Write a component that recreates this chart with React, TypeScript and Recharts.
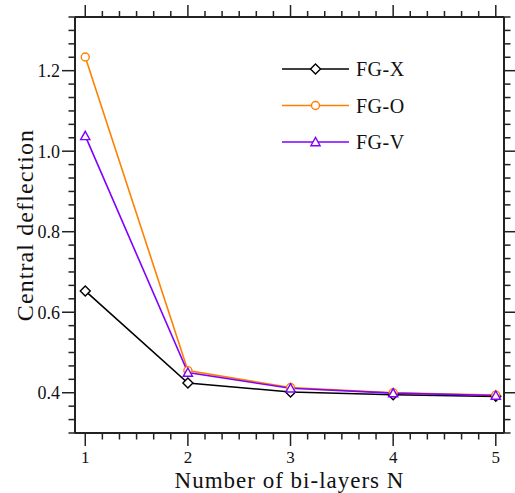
import React from 'react';
import { LineChart, Line, XAxis, YAxis, Legend } from 'recharts';

// number of bi-layers and central deflection per grading pattern
const layers = [1, 2, 3, 4, 5];
const fgX = [0.653, 0.424, 0.402, 0.395, 0.391];
const fgO = [1.234, 0.455, 0.413, 0.4, 0.394];
const fgV = [1.038, 0.45, 0.411, 0.399, 0.393];

const xMajorTicks = [1, 2, 3, 4, 5];
const yMajorTicks = [0.4, 0.6, 0.8, 1.0, 1.2];

const xDomain = [0.9, 5.08];
const yDomain = [0.3, 0.3 + 31 / 30];

// minor ticks: 6 subdivisions per major step
const xTicks = Array.from({ length: 25 }, (_, k) => 1 + k / 6);
const yTicks = Array.from({ length: 32 }, (_, k) => 0.3 + k / 30);

const FONT = '"Liberation Serif", "DejaVu Serif", serif';
const AXIS = '#222';
const TEXT = '#111';

const series = [
  { key: 'x', name: 'FG-X', color: '#000000', marker: 'diamond' },
  { key: 'o', name: 'FG-O', color: '#ff8000', marker: 'circle' },
  { key: 'v', name: 'FG-V', color: '#8000ff', marker: 'triangle' },
];

const data = layers.map((n, i) => ({ n, x: fgX[i], o: fgO[i], v: fgV[i] }));

const isMajor = (v: number, majors: number[]) => majors.some((m) => Math.abs(m - v) < 1e-6);

const Marker = ({ kind, cx, cy, color }: { kind: string; cx: number; cy: number; color: string }) => {
  if (kind === 'diamond') {
    const s = 5;
    return (
      <path
        d={`M${cx},${cy - s}L${cx + s},${cy}L${cx},${cy + s}L${cx - s},${cy}Z`}
        fill="#fff"
        stroke={color}
        strokeWidth={1.4}
      />
    );
  }
  if (kind === 'triangle') {
    const s = 4.6;
    return (
      <path
        d={`M${cx},${cy - s}L${cx + s},${cy + s * 0.8}L${cx - s},${cy + s * 0.8}Z`}
        fill="#fff"
        stroke={color}
        strokeWidth={1.4}
      />
    );
  }
  return <circle cx={cx} cy={cy} r={4} fill="#fff" stroke={color} strokeWidth={1.4} />;
};

const BottomTick = (props: any) => {
  const { x, y, payload } = props;
  const major = isMajor(payload.value, xMajorTicks);
  return (
    <g>
      <line x1={x} x2={x} y1={y} y2={y + (major ? 13 : 6.5)} stroke={AXIS} strokeWidth={1.5} />
      {major && (
        <text x={x} y={y + 18} dy="0.71em" textAnchor="middle" fill={TEXT} fontSize={17} fontFamily={FONT}>
          {Math.round(payload.value)}
        </text>
      )}
    </g>
  );
};

const TopTick = (props: any) => {
  const { x, y, payload } = props;
  const major = isMajor(payload.value, xMajorTicks);
  return <line x1={x} x2={x} y1={y} y2={y - (major ? 12 : 6)} stroke={AXIS} strokeWidth={1.5} />;
};

const LeftTick = (props: any) => {
  const { x, y, payload } = props;
  const major = isMajor(payload.value, yMajorTicks);
  return (
    <g>
      <line x1={x} x2={x - (major ? 13 : 6.5)} y1={y} y2={y} stroke={AXIS} strokeWidth={1.5} />
      {major && (
        <text x={x - 15} y={y} dy="0.36em" textAnchor="end" fill={TEXT} fontSize={18} fontFamily={FONT}>
          {payload.value.toFixed(1)}
        </text>
      )}
    </g>
  );
};

const RightTick = (props: any) => {
  const { x, y, payload } = props;
  const major = isMajor(payload.value, yMajorTicks);
  return <line x1={x} x2={x + (major ? 13 : 6.5)} y1={y} y2={y} stroke={AXIS} strokeWidth={1.5} />;
};

const renderYLabel = (props: any) => {
  const { viewBox } = props;
  const cx = viewBox.x + 10;
  const cy = viewBox.y + viewBox.height / 2;
  return (
    <text
      x={cx}
      y={cy}
      transform={`rotate(-90, ${cx}, ${cy})`}
      textAnchor="middle"
      dominantBaseline="central"
      fill={TEXT}
      fontSize={24}
      letterSpacing={1.1}
      fontFamily={FONT}
    >
      Central deflection
    </text>
  );
};

// draw legend rows in series order (recharts sorts the payload by name)
const LegendContent = () => (
  <svg width={160} height={110} style={{ display: 'block' }}>
    {series.map((s, i) => {
      const cy = 17 + i * 36.5;
      return (
        <g key={s.key}>
          <line x1={2} x2={69} y1={cy} y2={cy} stroke={s.color} strokeWidth={1.6} />
          <Marker kind={s.marker} cx={35.5} cy={cy} color={s.color} />
          <text x={76} y={cy + 7} fill={TEXT} fontSize={20} letterSpacing={0.5} fontFamily={FONT}>
            {s.name}
          </text>
        </g>
      );
    })}
  </svg>
);

export default function App() {
  return (
    <div style={{ position: 'absolute', left: 0, top: 0, background: '#fff' }}>
      <LineChart width={515} height={493} data={data} margin={{ top: 0, right: 0, bottom: 0, left: 15 }}>
        <XAxis
          dataKey="n"
          type="number"
          domain={xDomain}
          ticks={xTicks}
          interval={0}
          allowDataOverflow
          height={60}
          tickSize={0}
          tickMargin={0}
          tick={BottomTick}
          axisLine={{ stroke: AXIS, strokeWidth: 2 }}
          label={{
            value: 'Number of bi-layers N',
            position: 'insideBottom',
            offset: 5,
            fontSize: 23,
            letterSpacing: 1,
            fill: TEXT,
            fontFamily: FONT,
          }}
        />
        <XAxis
          xAxisId="top"
          orientation="top"
          dataKey="n"
          type="number"
          domain={xDomain}
          ticks={xTicks}
          interval={0}
          allowDataOverflow
          height={17}
          tickSize={0}
          tickMargin={0}
          tick={TopTick}
          axisLine={{ stroke: AXIS, strokeWidth: 2 }}
        />
        <YAxis
          type="number"
          domain={yDomain}
          ticks={yTicks}
          interval={0}
          allowDataOverflow
          width={60}
          tickSize={0}
          tickMargin={0}
          tick={LeftTick}
          axisLine={{ stroke: AXIS, strokeWidth: 2 }}
          label={renderYLabel}
        />
        <YAxis
          yAxisId="right"
          orientation="right"
          type="number"
          domain={yDomain}
          ticks={yTicks}
          interval={0}
          allowDataOverflow
          width={11}
          tickSize={0}
          tickMargin={0}
          tick={RightTick}
          axisLine={{ stroke: AXIS, strokeWidth: 2 }}
        />
        <Legend
          layout="vertical"
          align="center"
          verticalAlign="middle"
          wrapperStyle={{ left: 280, top: 52, width: 160, height: 110 }}
          content={LegendContent}
        />
        {series.map((s) => (
          <Line
            key={s.key}
            dataKey={s.key}
            name={s.name}
            type="linear"
            stroke={s.color}
            strokeWidth={1.6}
            isAnimationActive={false}
            activeDot={false}
            dot={(p: any) => <Marker key={`${s.key}-${p.index}`} kind={s.marker} cx={p.cx} cy={p.cy} color={s.color} />}
          />
        ))}
      </LineChart>
    </div>
  );
}
